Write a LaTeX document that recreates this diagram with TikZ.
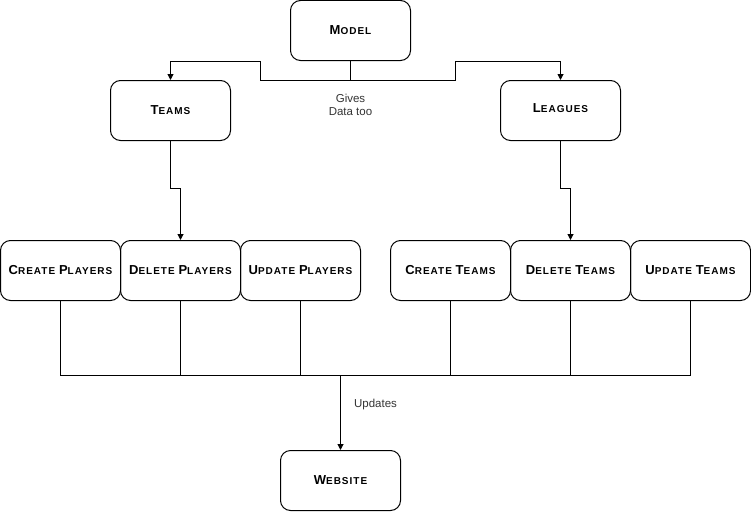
\documentclass[tikz,border=0pt]{standalone}
\usepackage{fontspec}
\setmainfont{Liberation Sans}
\newfontfamily\cpfont[LetterSpace=10]{Liberation Sans}
\usetikzlibrary{arrows.meta}
\newcommand\capL[1]{{\fontsize{13}{14}\selectfont #1}}
\tikzset{
  box/.style={draw, line width=1pt, rounded corners=10pt, minimum width=120pt, minimum height=60pt, inner sep=0pt, font=\cpfont\fontsize{10}{11}\selectfont\bfseries},
  conn/.style={line width=1pt},
  arr/.style={line width=1pt, -{Triangle[length=6pt,width=6pt]}},
  lbl/.style={font=\fontsize{11.5}{13.5}\selectfont, text=black!80, align=center}
}
\begin{document}
\begin{tikzpicture}[x=1pt,y=-1pt]
\useasboundingbox (0,0) rectangle (751,511);
\node[box] (model) at (350.5,30.5) {\capL{M}ODEL};
\node[box] (teams) at (170.5,110.5) {\raisebox{-1.5pt}{\capL{T}EAMS}};
\node[box] (leagues) at (560.5,110.5) {\raisebox{4pt}{\capL{L}EAGUES}};
\node[box] (cp) at (60.5,270.5) {\capL{C}REATE \capL{P}LAYERS};
\node[box] (dp) at (180.5,270.5) {\capL{D}ELETE \capL{P}LAYERS};
\node[box] (up) at (300.5,270.5) {\capL{U}PDATE \capL{P}LAYERS};
\node[box] (ct) at (450.5,270.5) {\raisebox{-1.5pt}{\capL{C}REATE \capL{T}EAMS}};
\node[box] (dt) at (570.5,270.5) {\capL{D}ELETE \capL{T}EAMS};
\node[box] (ut) at (690.5,270.5) {\raisebox{-2.5pt}{\capL{U}PDATE \capL{T}EAMS}};
\node[box] (web) at (340.5,480.5) {\raisebox{-2pt}{\capL{W}EBSITE}};
\coordinate (mj) at (350.5,80.5);
\coordinate (bj) at (340.5,375.5);
% model to teams / leagues
\draw[conn] (model.south) -- (mj);
\draw[arr] (mj) -- (260.5,80.5) -- (260.5,61.5) -- (170.5,61.5) -- (teams.north);
\draw[arr] (mj) -- (455.5,80.5) -- (455.5,61.5) -- (560.5,61.5) -- (leagues.north);
\node[lbl] (gives) at (350.5,105) {Gives\\Data too};
% teams to delete players
\draw[arr] (teams.south) -- (170.5,188.5) -- (180.5,188.5) -- (dp.north);
\draw[arr] (leagues.south) -- (560.5,188.5) -- (570.5,188.5) -- (dt.north);
% bottom bus
\draw[conn] (cp.south) -- (60.5,375.5) -- (690.5,375.5) -- (ut.south);
\foreach \n/\x in {dp/180.5, up/300.5, ct/450.5, dt/570.5}
  \draw[conn] (\n.south) -- (\x,375.5);
\draw[arr] (bj) -- (web.north);
\node[lbl] (upd) at (375.5,405) {Updates};
\end{tikzpicture}
\end{document}
